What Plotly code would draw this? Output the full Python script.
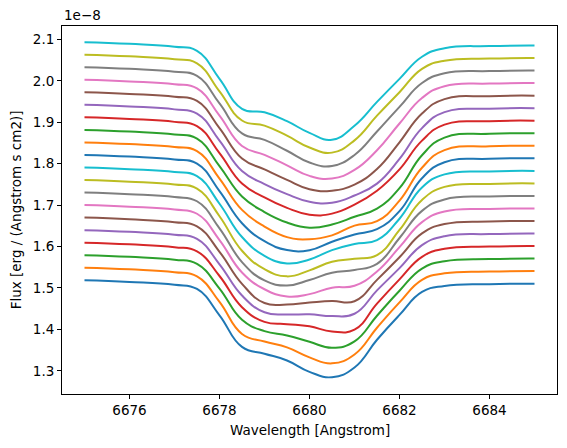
import plotly.graph_objects as go

# Wavelength sample points [Angstrom]
wavelength = [6675, 6676, 6677, 6677.5, 6678, 6678.5, 6679, 6679.5, 6680,
              6680.5, 6681, 6681.5, 6682, 6682.5, 6683, 6684, 6685]

# Flux values in units of 1e-8 erg / (Angstrom s cm2)
flux_00 = [1.5186, 1.5146, 1.5076, 1.4976, 1.4341, 1.3577, 1.3413, 1.3250, 1.2975, 1.2845, 1.3080, 1.3750, 1.4349, 1.4904, 1.5050, 1.5092, 1.5104]
flux_01 = [1.5489, 1.5449, 1.5379, 1.5279, 1.4664, 1.3890, 1.3706, 1.3565, 1.3325, 1.3180, 1.3395, 1.4040, 1.4652, 1.5197, 1.5353, 1.5395, 1.5407]
flux_02 = [1.5791, 1.5751, 1.5681, 1.5581, 1.4986, 1.4232, 1.3958, 1.3854, 1.3700, 1.3556, 1.3710, 1.4330, 1.4934, 1.5469, 1.5645, 1.5697, 1.5709]
flux_03 = [1.6094, 1.6054, 1.5984, 1.5884, 1.5289, 1.4535, 1.4181, 1.4127, 1.4073, 1.3949, 1.3995, 1.4621, 1.5207, 1.5752, 1.5948, 1.6000, 1.6012]
flux_04 = [1.6396, 1.6356, 1.6286, 1.6186, 1.5571, 1.4817, 1.4413, 1.4359, 1.4365, 1.4321, 1.4377, 1.4943, 1.5479, 1.6034, 1.6250, 1.6302, 1.6314]
flux_05 = [1.6699, 1.6659, 1.6589, 1.6489, 1.5874, 1.5100, 1.4636, 1.4602, 1.4648, 1.4684, 1.4680, 1.5196, 1.5742, 1.6317, 1.6543, 1.6605, 1.6617]
flux_06 = [1.7002, 1.6962, 1.6892, 1.6792, 1.6157, 1.5373, 1.4969, 1.4795, 1.4851, 1.5007, 1.5053, 1.5399, 1.5985, 1.6590, 1.6846, 1.6908, 1.6920]
flux_07 = [1.7304, 1.7264, 1.7194, 1.7094, 1.6439, 1.5625, 1.5181, 1.5057, 1.5193, 1.5369, 1.5435, 1.5581, 1.6207, 1.6862, 1.7138, 1.7210, 1.7222]
flux_08 = [1.7607, 1.7567, 1.7497, 1.7397, 1.6732, 1.5898, 1.5454, 1.5280, 1.5426, 1.5632, 1.5708, 1.5794, 1.6400, 1.7125, 1.7441, 1.7513, 1.7525]
flux_09 = [1.7909, 1.7869, 1.7799, 1.7699, 1.7034, 1.6230, 1.5776, 1.5592, 1.5688, 1.5914, 1.6060, 1.6156, 1.6672, 1.7427, 1.7743, 1.7815, 1.7827]
flux_10 = [1.8212, 1.8172, 1.8102, 1.8002, 1.7337, 1.6563, 1.6129, 1.5915, 1.5911, 1.6117, 1.6293, 1.6419, 1.6855, 1.7650, 1.8036, 1.8118, 1.8130]
flux_11 = [1.8515, 1.8475, 1.8405, 1.8305, 1.7640, 1.6886, 1.6482, 1.6228, 1.6174, 1.6270, 1.6506, 1.6612, 1.7108, 1.7903, 1.8329, 1.8421, 1.8433]
flux_12 = [1.8817, 1.8777, 1.8707, 1.8607, 1.7942, 1.7208, 1.6834, 1.6580, 1.6456, 1.6532, 1.6718, 1.6914, 1.7410, 1.8205, 1.8631, 1.8723, 1.8735]
flux_13 = [1.9120, 1.9080, 1.9010, 1.8910, 1.8255, 1.7521, 1.7187, 1.6933, 1.6769, 1.6795, 1.7011, 1.7347, 1.7863, 1.8558, 1.8944, 1.9026, 1.9038]
flux_14 = [1.9422, 1.9382, 1.9312, 1.9212, 1.8557, 1.7823, 1.7509, 1.7265, 1.7081, 1.7057, 1.7233, 1.7519, 1.8115, 1.8860, 1.9246, 1.9328, 1.9340]
flux_15 = [1.9725, 1.9685, 1.9615, 1.9515, 1.8860, 1.8126, 1.7862, 1.7608, 1.7384, 1.7350, 1.7496, 1.7872, 1.8518, 1.9213, 1.9559, 1.9631, 1.9643]
flux_16 = [2.0028, 1.9988, 1.9918, 1.9818, 1.9163, 1.8429, 1.8215, 1.7961, 1.7707, 1.7643, 1.7849, 1.8325, 1.8971, 1.9586, 1.9872, 1.9934, 1.9946]
flux_17 = [2.0330, 2.0290, 2.0220, 2.0120, 1.9455, 1.8731, 1.8577, 1.8313, 1.8029, 1.7945, 1.8211, 1.8777, 1.9373, 1.9948, 2.0184, 2.0236, 2.0248]
flux_18 = [2.0633, 2.0593, 2.0523, 2.0423, 1.9748, 1.9044, 1.8920, 1.8676, 1.8392, 1.8268, 1.8564, 1.9160, 1.9726, 2.0291, 2.0487, 2.0539, 2.0551]
flux_19 = [2.0935, 2.0895, 2.0825, 2.0725, 2.0050, 1.9326, 1.9242, 1.9028, 1.8744, 1.8580, 1.8916, 1.9492, 2.0048, 2.0583, 2.0789, 2.0841, 2.0853]

spectra = [flux_00, flux_01, flux_02, flux_03, flux_04, flux_05, flux_06, flux_07,
           flux_08, flux_09, flux_10, flux_11, flux_12, flux_13, flux_14, flux_15,
           flux_16, flux_17, flux_18, flux_19]

x_ticks = [6676, 6678, 6680, 6682, 6684]
y_ticks = [1.3, 1.4, 1.5, 1.6, 1.7, 1.8, 1.9, 2.0, 2.1]

colors = ["#1f77b4", "#ff7f0e", "#2ca02c", "#d62728", "#9467bd",
          "#8c564b", "#e377c2", "#7f7f7f", "#bcbd22", "#17becf"]

fig = go.Figure()
for i, f in enumerate(spectra):
    fig.add_trace(go.Scatter(
        x=wavelength, y=f, mode="lines",
        line=dict(color=colors[i % 10], width=2, shape="spline", smoothing=1.3),
        showlegend=False, hoverinfo="skip"))

font = dict(family="DejaVu Sans", size=13.5, color="black")

fig.update_layout(
    width=567, height=448,
    margin=dict(l=62, r=10, t=26, b=54),
    paper_bgcolor="white", plot_bgcolor="white",
    font=font,
    xaxis=dict(range=[6674.5, 6685.5], tickvals=x_ticks,
               ticktext=[str(v) for v in x_ticks],
               showline=True, mirror=True, linecolor="black", linewidth=1,
               ticks="outside", ticklen=4, tickcolor="black", tickwidth=1,
               showgrid=False, zeroline=False, tickfont=font),
    yaxis=dict(range=[1.2440, 2.1325], tickvals=y_ticks,
               ticktext=["%.1f" % v for v in y_ticks],
               showline=True, mirror=True, linecolor="black", linewidth=1,
               ticks="outside", ticklen=4, tickcolor="black", tickwidth=1,
               showgrid=False, zeroline=False, tickfont=font),
    annotations=[
        dict(text="1e\u22128", xref="paper", yref="paper", x=0, y=1,
             xanchor="left", yanchor="bottom", showarrow=False, font=font, yshift=1),
        dict(text="Wavelength [Angstrom]", xref="paper", yref="paper", x=0.5, y=-0.097,
             xanchor="center", yanchor="middle", showarrow=False, font=font),
        dict(text="Flux [erg / (Angstrom s cm2)]", xref="paper", yref="paper",
             x=-0.0922, y=0.5, xanchor="center", yanchor="middle", textangle=-90,
             showarrow=False, font=font),
    ],
)

fig.write_html("out.html")
